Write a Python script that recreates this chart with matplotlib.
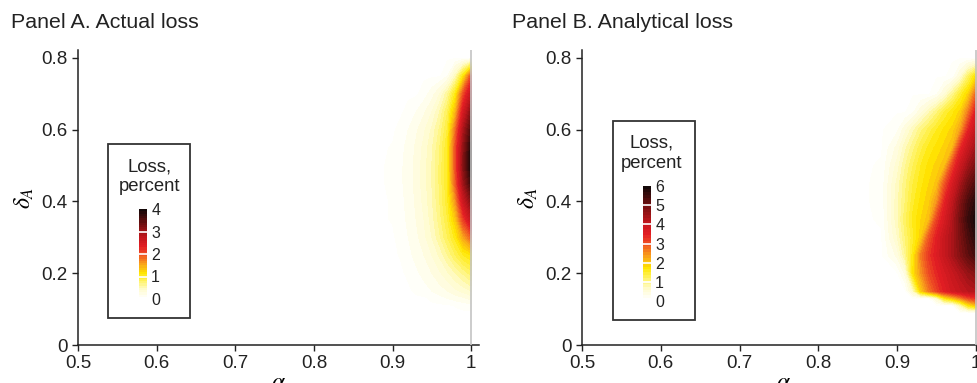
import matplotlib.pyplot as plt
import numpy as np
from matplotlib.colors import LinearSegmentedColormap, BoundaryNorm
from matplotlib.cm import ScalarMappable
from matplotlib.patches import Rectangle

plt.rcParams['font.family'] = ['Liberation Sans', 'DejaVu Sans']
plt.rcParams['mathtext.fontset'] = 'stix'

# grid (alpha along x, delta_A along y)
alpha = [0.86, 0.88, 0.90, 0.91, 0.92, 0.93, 0.94, 0.95, 0.96, 0.97, 0.98, 0.99, 1.00]
delta = [0.0, 0.05, 0.09, 0.11, 0.13, 0.15, 0.20, 0.25, 0.30, 0.35, 0.40, 0.45,
         0.50, 0.55, 0.60, 0.65, 0.70, 0.75, 0.80]

# Panel A: actual loss, percent (rows = delta, cols = alpha)
loss_actual = [
    [0, 0, 0, 0, 0, 0, 0, 0, 0, 0, 0, 0, 0],
    [0, 0, 0, 0, 0, 0, 0, 0, 0, 0, 0, 0, 0],
    [0, 0, 0, 0, 0, 0, 0, 0, 0, 0, 0, 0, 0],
    [0, 0, 0, 0, 0, 0, 0, 0, 0, 0, 0.02, 0.04, 0.06],
    [0, 0, 0, 0, 0, 0, 0, 0.03, 0.06, 0.1, 0.14, 0.18, 0.24],
    [0, 0, 0, 0, 0, 0.03, 0.06, 0.1, 0.15, 0.2, 0.27, 0.33, 0.4],
    [0, 0, 0, 0, 0.03, 0.08, 0.13, 0.2, 0.28, 0.38, 0.5, 0.62, 0.75],
    [0, 0, 0, 0.02, 0.07, 0.13, 0.2, 0.3, 0.42, 0.6, 0.8, 1.0, 1.1],
    [0, 0, 0, 0.05, 0.1, 0.17, 0.27, 0.4, 0.58, 0.8, 1.05, 1.5, 1.9],
    [0, 0, 0.02, 0.06, 0.12, 0.2, 0.3, 0.45, 0.65, 0.9, 1.3, 2.1, 2.7],
    [0, 0, 0.02, 0.07, 0.13, 0.22, 0.33, 0.48, 0.7, 0.97, 1.6, 2.6, 3.2],
    [0, 0, 0.03, 0.08, 0.14, 0.23, 0.35, 0.5, 0.72, 1.0, 1.9, 3.0, 3.7],
    [0, 0, 0.03, 0.08, 0.14, 0.23, 0.35, 0.5, 0.72, 1.0, 2.0, 3.2, 4.0],
    [0, 0, 0.02, 0.07, 0.13, 0.22, 0.33, 0.48, 0.7, 1.0, 2.0, 3.1, 3.9],
    [0, 0, 0, 0.04, 0.1, 0.18, 0.28, 0.42, 0.62, 0.92, 1.8, 2.9, 3.6],
    [0, 0, 0, 0, 0.04, 0.1, 0.18, 0.3, 0.5, 0.8, 1.4, 2.5, 3.2],
    [0, 0, 0, 0, 0, 0, 0.05, 0.15, 0.3, 0.58, 1.05, 2.0, 2.7],
    [0, 0, 0, 0, 0, 0, 0, 0, 0, 0.1, 0.45, 1.1, 2.0],
    [0, 0, 0, 0, 0, 0, 0, 0, 0, 0, 0, 0, 0],
]

# Panel B: analytical loss, percent
loss_analytical = [
    [0, 0, 0, 0, 0, 0, 0, 0, 0, 0, 0, 0, 0],
    [0, 0, 0, 0, 0, 0, 0, 0, 0, 0, 0, 0, 0],
    [0, 0, 0, 0, 0, 0, 0, 0, 0, 0, 0, 0, 0],
    [0, 0, 0, 0, 0, 0, 0, 0, 0, 0, 0.7, 1.6, 2.0],
    [0, 0, 0, 0, 0, 0, 0, 0.5, 1.6, 2.0, 2.5, 3.0, 3.3],
    [0, 0, 0, 0, 0.6, 1.9, 2.6, 3.1, 3.5, 3.8, 4.0, 4.2, 4.3],
    [0, 0, 0, 0.35, 1.7, 2.4, 3.0, 3.4, 3.7, 4.0, 4.3, 4.6, 4.8],
    [0, 0, 0.35, 0.9, 1.6, 2.6, 3.2, 3.6, 4.0, 4.4, 4.8, 5.2, 5.5],
    [0, 0, 0.6, 1.05, 1.45, 1.9, 2.9, 3.5, 4.0, 4.4, 4.9, 5.4, 5.8],
    [0, 0.03, 0.7, 1.15, 1.55, 1.8, 2.05, 3.1, 3.7, 4.3, 5.0, 5.6, 6.0],
    [0, 0.06, 0.7, 1.05, 1.45, 1.7, 1.9, 2.4, 3.4, 4.1, 4.8, 5.4, 5.8],
    [0, 0.06, 0.65, 1.0, 1.35, 1.6, 1.8, 2.0, 2.9, 3.7, 4.4, 5.0, 5.4],
    [0, 0.03, 0.52, 0.88, 1.2, 1.5, 1.7, 1.85, 2.05, 3.1, 3.9, 4.5, 4.9],
    [0, 0, 0.35, 0.7, 1.0, 1.3, 1.55, 1.7, 1.85, 2.1, 3.3, 4.0, 4.5],
    [0, 0, 0.12, 0.4, 0.7, 1.0, 1.25, 1.5, 1.7, 1.85, 2.3, 3.4, 4.1],
    [0, 0, 0, 0, 0.12, 0.4, 0.7, 1.0, 1.35, 1.6, 1.85, 2.6, 3.6],
    [0, 0, 0, 0, 0, 0, 0, 0.12, 0.45, 0.9, 1.4, 1.85, 2.8],
    [0, 0, 0, 0, 0, 0, 0, 0, 0, 0.06, 0.45, 1.1, 1.7],
    [0, 0, 0, 0, 0, 0, 0, 0, 0, 0, 0, 0, 0],
]

xticks = [0.5, 0.6, 0.7, 0.8, 0.9, 1.0]
xticklabels = ['0.5', '0.6', '0.7', '0.8', '0.9', '1']
yticks = [0, 0.2, 0.4, 0.6, 0.8]
yticklabels = ['0', '0.2', '0.4', '0.6', '0.8']

cmap = LinearSegmentedColormap.from_list('loss', [
    (0.0, '#ffffff'), (0.1, '#fffbcc'), (0.2, '#fff25a'), (0.28, '#ffe600'),
    (0.38, '#f9a51a'), (0.48, '#f15a22'), (0.58, '#e31e24'), (0.7, '#bd161c'),
    (0.85, '#6a0f0f'), (1.0, '#140808')])

W, H = 977, 383
fig = plt.figure(figsize=(W / 100, H / 100), dpi=100)


def px_axes(x0, y0, x1, y1):
    return fig.add_axes([x0 / W, 1 - y1 / H, (x1 - x0) / W, (y1 - y0) / H])


panels = [
    dict(title='Panel A. Actual loss', tx=11, ax=(78, 50, 479, 345), z=loss_actual,
         vmax=4, box=(108, 144, 190, 318), cb=(139, 209, 147, 299), txt=(150, 171)),
    dict(title='Panel B. Analytical loss', tx=512, ax=(582, 50, 984, 345), z=loss_analytical,
         vmax=6, box=(613, 121, 695, 320), cb=(643, 186, 651, 301), txt=(652, 148)),
]

for p in panels:
    ax = px_axes(*p['ax'])
    levels = np.linspace(0, p['vmax'], 41)
    fill_levels = levels.copy()
    fill_levels[0] = 0.015
    cf = ax.contourf(alpha, delta, np.array(p['z']), levels=fill_levels, cmap=cmap,
                     vmin=0, vmax=p['vmax'])
    ax.axvline(1.0, color='#c4c4c4', lw=1.2, zorder=3)
    ax.set_xlim(0.5, 1.01)
    ax.set_ylim(0, 0.822)
    ax.set_xticks(xticks)
    ax.set_xticklabels(xticklabels)
    ax.set_yticks(yticks)
    ax.set_yticklabels(yticklabels)
    for s in ['top', 'right']:
        ax.spines[s].set_visible(False)
    for s in ['left', 'bottom']:
        ax.spines[s].set_linewidth(1.1)
        ax.spines[s].set_color('#222222')
    ax.tick_params(direction='out', length=4.5, width=1, labelsize=13.5,
                   colors='#222222', pad=3)
    ax.set_xlabel(r'$\alpha$', fontsize=17, labelpad=0)
    ax.set_ylabel(r'$\delta_A$', fontsize=17, labelpad=4)

    fig.text(p['tx'] / W, 1 - 28 / H, p['title'], fontsize=15.4, va='baseline',
             color='#222222')

    # legend box with colorbar
    bx0, by0, bx1, by1 = p['box']
    fig.patches.append(Rectangle((bx0 / W, 1 - by1 / H), (bx1 - bx0) / W, (by1 - by0) / H,
                                 transform=fig.transFigure, fill=False,
                                 edgecolor='#333333', lw=1.3))
    tx, ty = p['txt']
    fig.text(tx / W, 1 - ty / H, 'Loss,', fontsize=13.3, ha='center',
             va='baseline', color='#222222')
    fig.text(tx / W, 1 - (ty + 20) / H, 'percent', fontsize=13.3, ha='center',
             va='baseline', color='#222222')
    cax = px_axes(*p['cb'])
    sm = ScalarMappable(norm=BoundaryNorm(levels, cmap.N), cmap=cmap)
    cbar = fig.colorbar(sm, cax=cax, ticks=list(range(p['vmax'] + 1)))
    cbar.outline.set_visible(False)
    cbar.ax.minorticks_off()
    cbar.ax.tick_params(which='both', length=0, pad=3, labelsize=11.5, colors='#222222')
    for t in range(1, p['vmax']):
        cax.axhline(t, color='white', lw=1.2)

fig.savefig('out.png', dpi=100)
